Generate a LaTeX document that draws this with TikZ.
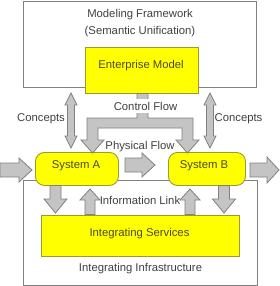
\documentclass[tikz,border=0pt]{standalone}
\usepackage{fontspec}
\setmainfont{Liberation Sans}
\definecolor{framegray}{HTML}{808080}
\definecolor{yfill}{HTML}{FFFF00}
\definecolor{yborder}{HTML}{9A9A30}
\definecolor{arrowfill}{HTML}{C4C4C4}
\definecolor{arrowborder}{HTML}{808080}
\definecolor{txt}{HTML}{404040}
\definecolor{ytxt}{HTML}{4A4A20}
\newcommand\lblfont{\fontsize{11.3}{13.5}\selectfont}
\begin{document}
\begin{tikzpicture}[x=1pt,y=-1pt,
  frame/.style={draw=framegray, line width=1pt, fill=white, inner sep=0pt, anchor=north west},
  ybox/.style={draw=yborder, line width=0.9pt, fill=yfill, inner sep=0pt, anchor=north west},
  fat/.style={draw=arrowborder, fill=arrowfill, line width=0.8pt, line join=miter},
  lbl/.style={text=txt, font=\lblfont, inner sep=0pt},
  ylbl/.style={text=ytxt, font=\lblfont, inner sep=0pt}]
\useasboundingbox (0,0) rectangle (280,286);
% frames
\node[frame, minimum width=233pt, minimum height=86pt] (mf) at (23,1) {};
\node[frame, minimum width=234pt, minimum height=105pt] (inf) at (23,180) {};
% yellow boxes
\node[ybox, minimum width=113pt, minimum height=46pt] (em) at (85,47) {};
\node[ybox, minimum width=198pt, minimum height=41pt] (is) at (41,215) {};
\node[ybox, rounded corners=9pt, minimum width=83pt, minimum height=33pt] (sa) at (35,152) {};
\node[ybox, rounded corners=9pt, minimum width=77pt, minimum height=33pt] (sb) at (168,152) {};
% fat arrows: horizontal
\draw[fat] (0,163)--(19,163)--(19,158)--(32,170)--(19,182)--(19,177)--(0,177)--cycle;
\draw[fat] (125,158)--(142,158)--(142,153)--(155,165)--(142,177)--(142,172)--(125,172)--cycle;
\draw[fat] (250,163)--(267,163)--(267,157)--(279,170)--(267,183)--(267,177)--(250,177)--cycle;
% concepts double arrows
\foreach \cx in {71,210}{
  \draw[fat] (\cx,93)--(\cx+6,105)--(\cx+3.5,105)--(\cx+3.5,136)--(\cx+6,136)--(\cx,148)
    --(\cx-6,136)--(\cx-3.5,136)--(\cx-3.5,105)--(\cx-6,105)--cycle;
}
% control flow
\draw[fat] (137,93.5)--(148,93.5)--(148,118)--(193,118)--(193,140)--(199,140)--(187.5,153)
  --(176,140)--(182,140)--(182,128)--(98,128)--(98,140)--(104,140)--(92.5,153)--(81,140)
  --(87,140)--(87,118)--(137,118)--cycle;
% information links
\foreach \cx/\dir in {55.5/1,224/1,90/-1,190/-1}{
  \ifnum\dir=1
    \draw[fat] (\cx-5.5,185.5)--(\cx+5.5,185.5)--(\cx+5.5,199)--(\cx+11.5,199)--(\cx,213)
      --(\cx-11.5,199)--(\cx-5.5,199)--cycle;
  \else
    \draw[fat] (\cx-5,214.5)--(\cx+5,214.5)--(\cx+5,200)--(\cx+10,200)--(\cx,189)
      --(\cx-10,200)--(\cx-5,200)--cycle;
  \fi
}
% labels
\node[lbl] (t1) at (140,15) {Modeling Framework};
\node[lbl] (t2) at (140,32) {(Semantic Unification)};
\node[ylbl] (t3) at (141,66) {Enterprise Model};
\node[lbl] (t4) at (41,119) {Concepts};
\node[lbl] (t5) at (238.5,119) {Concepts};
\node[lbl, fill=white, inner xsep=1pt, inner ysep=2.5pt] (t6) at (145.5,106) {Control Flow};
\node[lbl] (t7) at (140,147) {Physical Flow};
\node[ylbl] (t8) at (76,166) {System A};
\node[ylbl] (t9) at (204,166) {System B};
\node[lbl] (t10) at (140,200) {Information Link};
\node[ylbl] (t11) at (139.5,234) {Integrating Services};
\node[lbl] (t12) at (140.5,269) {Integrating Infrastructure};
\end{tikzpicture}
\end{document}
